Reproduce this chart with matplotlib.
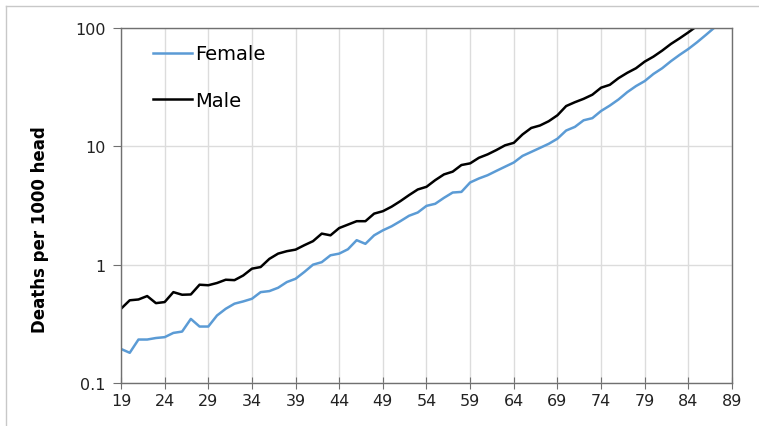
import matplotlib.pyplot as plt
from matplotlib.lines import Line2D
from matplotlib.ticker import FixedLocator, NullLocator

# ── Mortality rates by age (deaths per 1000 head) ─────────────────
ages = list(range(19, 88))

female = [0.194, 0.18, 0.233, 0.233, 0.24, 0.244, 0.265, 0.272, 0.348, 0.30,
          0.30, 0.372, 0.424, 0.468, 0.489, 0.515, 0.586, 0.598, 0.638, 0.713,
          0.76, 0.867, 1.0, 1.05, 1.2, 1.24, 1.35, 1.61, 1.50, 1.77,
          1.95, 2.11, 2.33, 2.59, 2.76, 3.14, 3.27, 3.67, 4.07, 4.12,
          4.95, 5.35, 5.70, 6.2, 6.73, 7.3, 8.3, 8.97, 9.7, 10.5,
          11.6, 13.6, 14.6, 16.6, 17.3, 19.9, 22.1, 24.9, 28.7, 32.3,
          35.6, 40.9, 45.7, 52.4, 59.3, 66.5, 75.8, 87.3, 101.0]

male_ages = list(range(19, 86))
male = [0.424, 0.50, 0.508, 0.543, 0.473, 0.483, 0.586, 0.557, 0.56, 0.677,
        0.67, 0.70, 0.746, 0.74, 0.81, 0.925, 0.955, 1.12, 1.24, 1.30,
        1.34, 1.46, 1.58, 1.83, 1.77, 2.04, 2.18, 2.33, 2.33, 2.70,
        2.83, 3.09, 3.44, 3.87, 4.32, 4.55, 5.18, 5.79, 6.11, 6.95,
        7.18, 8.0, 8.55, 9.3, 10.2, 10.7, 12.6, 14.3, 15.0, 16.3,
        18.3, 21.9, 23.6, 25.2, 27.3, 31.3, 33.1, 37.7, 41.8, 45.7,
        52.0, 57.3, 64.4, 73.3, 81.8, 91.9, 104.0]

x_ticks = list(range(19, 90, 5))
y_ticks = [0.1, 1, 10, 100]
y_tick_labels = ['0.1', '1', '10', '100']

# ── Figure ────────────────────────────────────────────────────────
fig = plt.figure(figsize=(7.59, 4.27), dpi=100)
ax = fig.add_axes([121 / 759, 1 - 384 / 427, 611 / 759, 355 / 427])

ax.plot(ages, female, color='#5B9BD5', lw=1.8, label='Female')
ax.plot(male_ages, male, color='black', lw=1.8, label='Male')

ax.set_yscale('log')
ax.set_ylim(0.1, 100)
ax.set_xlim(19, 89)
ax.yaxis.set_major_locator(FixedLocator(y_ticks))
ax.yaxis.set_minor_locator(NullLocator())
ax.set_yticklabels(y_tick_labels)
ax.set_xticks(x_ticks)

ax.grid(True, color='#dcdcdc', lw=1.0)
ax.set_axisbelow(True)
for side in ['left', 'bottom', 'right', 'top']:
    ax.spines[side].set_color('#707070')
    ax.spines[side].set_linewidth(1.0)
ax.tick_params(axis='x', direction='inout', length=9, color='#707070',
               labelsize=11.5, pad=3, labelcolor='#222222')
ax.tick_params(axis='y', direction='out', length=6, color='#707070',
               labelsize=11.5, pad=5, labelcolor='#222222')

ax.set_ylabel('Deaths per 1000 head', fontsize=12, fontweight='bold')
ax.yaxis.set_label_coords(-0.118, 0.434)

ax.legend(loc='upper left', bbox_to_anchor=(0.024, 1.003), frameon=False,
          fontsize=14, handlelength=2.0, handletextpad=0.15,
          labelspacing=1.4)

# outer chart frame
fig.add_artist(Line2D([6 / 759, 1], [1 - 7 / 427] * 2, color='#c8c8c8',
                      lw=1.0, transform=fig.transFigure))
fig.add_artist(Line2D([6 / 759] * 2, [0, 1 - 7 / 427], color='#c8c8c8',
                      lw=1.0, transform=fig.transFigure))

fig.savefig('out.png', dpi=100)
